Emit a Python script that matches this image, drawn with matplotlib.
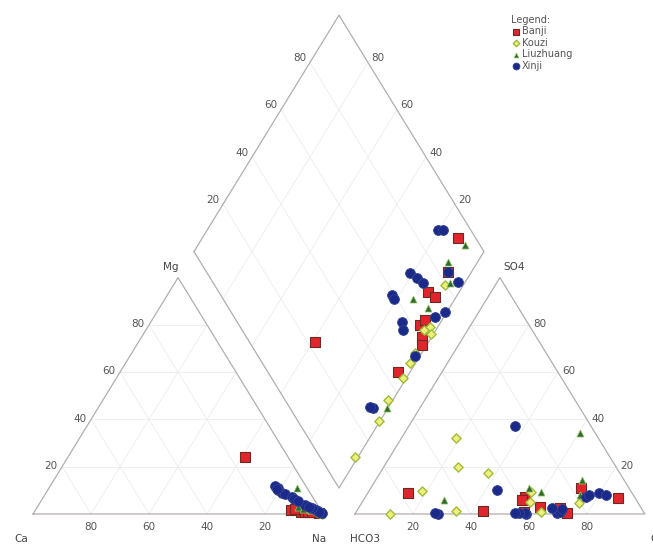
import numpy as np
import matplotlib
matplotlib.use("Agg")
import matplotlib.pyplot as plt

# Piper diagram, sample chemistry in % meq
# Na: Na+K share of cations, Mg: Mg share, CS: Cl+SO4 share of anions, SO4: SO4 share
banji_na = [88.2, 91.9, 89.3, 92.7, 93.4, 94.2, 96.7, 98.4, 95.9, 61.0]
banji_mg = [1.5, 1.0, 2.0, 1.5, 1.0, 1.0, 0.8, 0.5, 0.7, 24.1]
banji_cs = [94.0, 83.3, 72.1, 73.5, 62.4, 65.2, 60.5, 58.8, 44.9, 22.7]
banji_so4 = [6.8, 11.0, 2.5, 0.4, 7.2, 3.0, 6.0, 1.0, 1.3, 8.9]

kouzi_na = [93.7, 97.4, 99.3, 98.1, 98.8, 98.3, 99.0, 97.5, 99.5, 96.0]
kouzi_mg = [2.0, 1.0, 0.3, 0.8, 0.5, 0.8, 0.4, 1.0, 0.2, 1.5]
kouzi_cs = [79.5, 65.4, 64.5, 50.9, 45.4, 35.5, 12.0, 54.6, 28.0, 62.9]
kouzi_so4 = [4.6, 9.3, 0.8, 32.1, 19.9, 1.3, 0.0, 17.3, 9.7, 5.0]

liu_na = [89.8, 85.5, 92.6, 99.7, 92.0, 95.0]
liu_mg = [3.0, 11.0, 2.5, 0.2, 2.0, 1.5]
liu_cs = [85.4, 65.5, 68.8, 33.5, 94.7, 81.6]
liu_so4 = [14.4, 11.0, 9.3, 5.9, 34.3, 8.0]

xinji_na = [79.6, 81.3, 91.9, 97.5, 79.0, 82.5, 85.7, 77.5, 79.0, 99.4,
            96.9, 86.6, 88.7, 98.3, 94.8, 93.5]
xinji_mg = [10.0, 9.0, 4.0, 1.2, 11.0, 8.5, 7.0, 12.0, 10.5, 0.3,
            1.5, 6.5, 5.5, 0.8, 2.5, 3.0]
xinji_cs = [88.7, 90.5, 83.3, 84.6, 70.0, 71.3, 72.3, 59.1, 59.0, 73.8,
            69.3, 56.8, 55.5, 54.1, 28.6, 27.6]
xinji_so4 = [9.0, 8.0, 7.0, 8.0, 0.5, 1.0, 2.0, 0.0, 0.5, 37.2,
             2.5, 0.3, 0.5, 10.2, 0.0, 0.3]

ticks = [20, 40, 60, 80]

GAP = 11.0
H = np.sqrt(3) / 2
OFF = 100 + GAP


def cation_xy(na, mg):
    na, mg = np.asarray(na, float), np.asarray(mg, float)
    return na + mg / 2, mg * H


def anion_xy(cl, so4):
    cl, so4 = np.asarray(cl, float), np.asarray(so4, float)
    return OFF + cl + so4 / 2, so4 * H


def diamond_xy(na, cs):
    x1 = np.asarray(na, float)
    x2 = OFF + np.asarray(cs, float)
    return (x1 + x2) / 2, (x2 - x1) * H


fig = plt.figure(figsize=(6.53, 5.44), dpi=100)
ax = fig.add_axes([0, 0, 1, 1])
ax.set_xlim(-11.4, 213.8)
ax.set_ylim(-11.0, 188.3)
ax.axis('off')

edge = '#b5adad'
grid = '#ececec'
txt = '#555555'

# grid lines
for p in ticks:
    # cation triangle
    ax.plot(*zip(cation_xy(100 - p, p), cation_xy(0, p)), color=grid, lw=0.6, zorder=1)
    ax.plot(*zip(cation_xy(p, 0), cation_xy(p, 100 - p)), color=grid, lw=0.6, zorder=1)
    ax.plot(*zip(cation_xy(p, 0), cation_xy(0, p)), color=grid, lw=0.6, zorder=1)
    # anion triangle
    ax.plot(*zip(anion_xy(100 - p, p), anion_xy(0, p)), color=grid, lw=0.6, zorder=1)
    ax.plot(*zip(anion_xy(p, 0), anion_xy(0, p)), color=grid, lw=0.6, zorder=1)
    ax.plot(*zip(anion_xy(p, 0), anion_xy(p, 100 - p)), color=grid, lw=0.6, zorder=1)
    # diamond
    ax.plot(*zip(diamond_xy(p, 0), diamond_xy(p, 100)), color=grid, lw=0.6, zorder=1)
    ax.plot(*zip(diamond_xy(0, p), diamond_xy(100, p)), color=grid, lw=0.6, zorder=1)

# outlines
cx, cy = cation_xy([0, 100, 0, 0], [0, 0, 100, 0])
ax.plot(cx, cy, color=edge, lw=0.9, zorder=2)
axx, ayy = anion_xy([0, 100, 0, 0], [0, 0, 100, 0])
ax.plot(axx, ayy, color=edge, lw=0.9, zorder=2)
dx, dy = diamond_xy([0, 0, 100, 100, 0], [0, 100, 100, 0, 0])
ax.plot(dx, dy, color=edge, lw=0.9, zorder=2)

fs = 7.5
for p in ticks:
    # cation bottom: Ca %
    x, y = cation_xy(100 - p, 0)
    ax.text(x, y - 4.6, str(p), ha='center', va='center', fontsize=fs, color=txt)
    # cation left edge: Mg %
    x, y = cation_xy(0, p)
    ax.text(x - 1.5, y + 0.3, str(p), ha='right', va='center', fontsize=fs, color=txt)
    # anion bottom: Cl %
    x, y = anion_xy(p, 0)
    ax.text(x, y - 4.6, str(p), ha='center', va='center', fontsize=fs, color=txt)
    # anion right edge: SO4 %
    x, y = anion_xy(100 - p, p)
    ax.text(x + 1.5, y + 0.3, str(p), ha='left', va='center', fontsize=fs, color=txt)
    # diamond upper left: SO4+Cl %
    x, y = diamond_xy(0, p)
    ax.text(x - 1.2, y + 1.6, str(p), ha='right', va='center', fontsize=fs, color=txt)
    # diamond upper right: Ca+Mg %
    x, y = diamond_xy(100 - p, 100)
    ax.text(x + 1.2, y + 1.6, str(p), ha='left', va='center', fontsize=fs, color=txt)

lab = dict(fontsize=fs, color='#444444', va='center')
ax.text(-4, -9.0, 'Ca', ha='center', **lab)
ax.text(98.5, -9.0, 'Na', ha='center', **lab)
ax.text(47.5, 90.5, 'Mg', ha='center', **lab)
ax.text(OFF + 3.5, -9.0, 'HCO3', ha='center', **lab)
ax.text(OFF + 102, -9.0, 'Cl', ha='left', **lab)
ax.text(OFF + 55, 90.5, 'SO4', ha='center', **lab)

groups = [
    ('Banji', banji_na, banji_mg, banji_cs, banji_so4,
     dict(marker='s', s=42, c='#e0262c', edgecolors='#6e2a22', linewidths=0.8)),
    ('Kouzi', kouzi_na, kouzi_mg, kouzi_cs, kouzi_so4,
     dict(marker='D', s=22, c='#f1ef7a', edgecolors='#9bbd3c', linewidths=1.0)),
    ('Liuzhuang', liu_na, liu_mg, liu_cs, liu_so4,
     dict(marker='^', s=26, c='#2f6b2f', edgecolors='#9acb6a', linewidths=0.5)),
    ('Xinji', xinji_na, xinji_mg, xinji_cs, xinji_so4,
     dict(marker='o', s=50, c='#1b2a8a', edgecolors='#34458f', linewidths=0.6)),
]

for name, na, mg, cs, so4, style in groups:
    cl = np.asarray(cs) - np.asarray(so4)
    ax.scatter(*cation_xy(na, mg), zorder=3, **style)
    ax.scatter(*anion_xy(cl, so4), zorder=3, **style)
    ax.scatter(*diamond_xy(na, cs), zorder=3, label=name, **style)

leg = ax.legend(loc='upper left', bbox_to_anchor=(0.772, 0.985), frameon=False,
                title='Legend:', fontsize=7, title_fontsize=7, alignment='left',
                handletextpad=0.1, borderpad=0.2, labelspacing=0.15,
                handlelength=1.0, markerscale=0.7)
for t in leg.get_texts():
    t.set_color(txt)
leg.get_title().set_color(txt)

fig.savefig('out.png', dpi=100)
